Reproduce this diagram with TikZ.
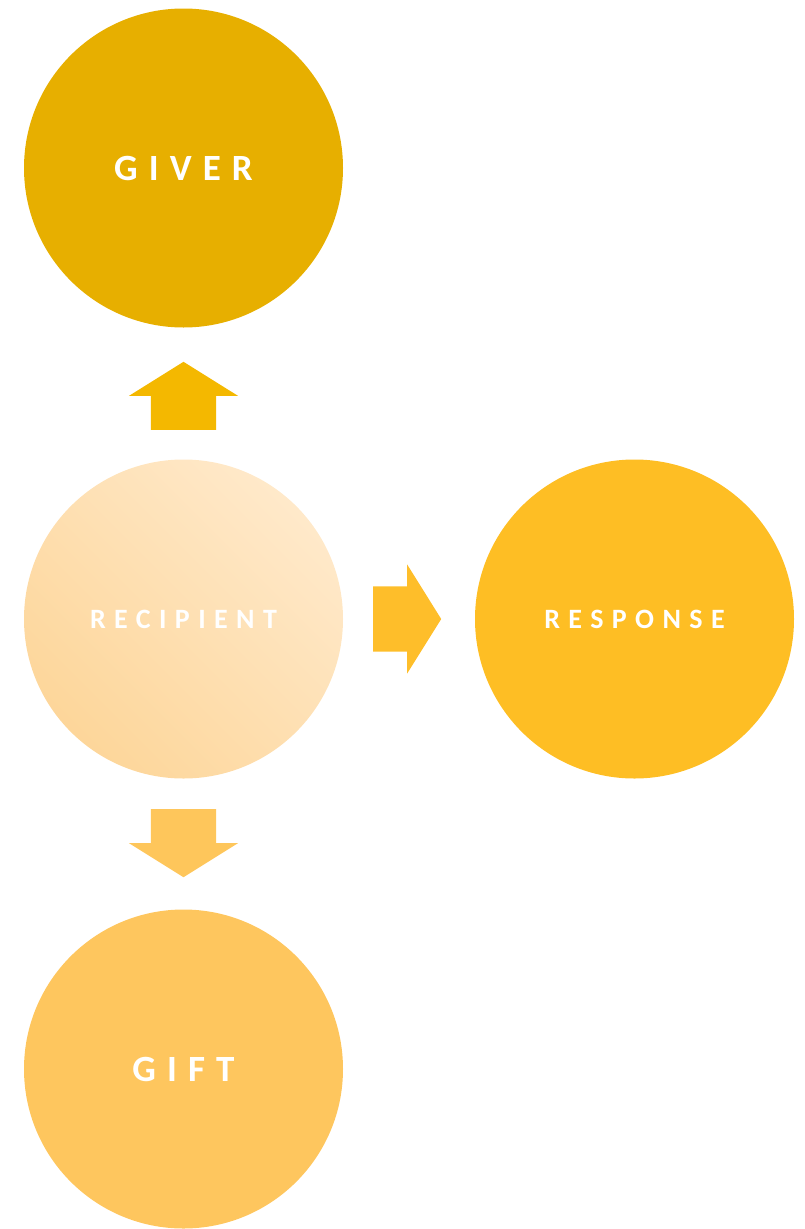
\documentclass[tikz,border=0pt]{standalone}
\usepackage{fontspec}
\setmainfont{Carlito}
\newfontfamily\ringfont[LetterSpace=30]{Carlito}
\usetikzlibrary{shapes.arrows}
\definecolor{giverFill}{HTML}{E7AF00}
\definecolor{upFill}{HTML}{F4B800}
\definecolor{recipLow}{HTML}{FDD69A}
\definecolor{recipHigh}{HTML}{FFE9CA}
\definecolor{respFill}{HTML}{FEBE24}
\definecolor{rightFill}{HTML}{FEBE2A}
\definecolor{downFill}{HTML}{FEC65B}
\definecolor{giftFill}{HTML}{FEC65E}
\tikzset{
  ring/.style = {
    circle, minimum size=319pt, inner sep=0pt, text=white,
    font=\ringfont\bfseries,
  },
  bigtxt/.style = {font=\ringfont\bfseries\fontsize{37}{40}\selectfont},
  smalltxt/.style = {font=\ringfont\bfseries\fontsize{28}{32}\selectfont},
  blockarr/.style = {
    single arrow, inner xsep=0pt, inner ysep=32.5pt, minimum height=68pt,
    single arrow head extend=22pt, single arrow tip angle=116,
  },
}

\begin{document}
\begin{tikzpicture}[x=1pt, y=-1pt]
\useasboundingbox (0,0) rectangle (805,1229);

\node[ring, bigtxt, fill=giverFill] (giver) at (183.5,168) {GIVER};
\node[ring, smalltxt, left color=recipLow, right color=recipHigh,
      shading angle=135] (recip) at (183.5,619) {RECIPIENT};
\node[ring, smalltxt, fill=respFill] (resp) at (634.5,619) {RESPONSE};
\node[ring, bigtxt, fill=giftFill] (gift) at (183.5,1069) {GIFT};

% shaft centres sit 10pt behind the middle of each arrow
\node[blockarr, fill=upFill, rotate=90] (up) at (183.5,406) {};
\node[blockarr, fill=rightFill] (right) at (397,619) {};
\node[blockarr, fill=downFill, rotate=-90] (down) at (183.5,833) {};

\end{tikzpicture}
\end{document}
